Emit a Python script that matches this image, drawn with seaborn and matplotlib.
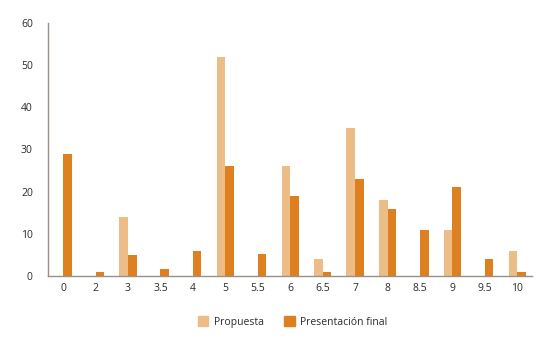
import pandas as pd
import matplotlib.pyplot as plt
import seaborn as sns

# categories (grades) and the two series
notas = ['0', '2', '3', '3.5', '4', '5', '5.5', '6', '6.5', '7', '8', '8.5', '9', '9.5', '10']
propuesta = [0, 0, 14, 0, 0, 52, 0, 26, 4, 35, 18, 0, 11, 0, 6]
final = [29, 1, 5, 1.6, 6, 26, 5.3, 19, 1, 23, 16, 11, 21, 4, 1]
series = ['Propuesta', 'Presentación final']

df = pd.DataFrame({
    'nota': notas * 2,
    'valor': propuesta + final,
    'serie': [series[0]] * len(notas) + [series[1]] * len(notas),
})

sns.set_style('white')
plt.rcParams['font.family'] = ['Open Sans', 'DejaVu Sans']

fig = plt.figure(figsize=(5.47, 3.39), dpi=100)
ax = fig.add_axes([0.088, 0.186, 0.885, 0.746])

sns.barplot(data=df, x='nota', y='valor', hue='serie', order=notas, hue_order=series,
            palette=['#EDBD87', '#DF8020'], width=0.53, saturation=1, linewidth=0, ax=ax)

ax.set_ylim(0, 60)
ax.set_xlim(-0.46, 14.46)
ax.set_yticks(range(0, 61, 10))
ax.set_xlabel('')
ax.set_ylabel('')

# spines and ticks
for s in ['top', 'right']:
    ax.spines[s].set_visible(False)
for s in ['left', 'bottom']:
    ax.spines[s].set_color('#9A9088')
    ax.spines[s].set_linewidth(1)
ax.tick_params(axis='y', length=2, color='#9A9088', pad=9, labelsize=7.5, labelcolor='#2b2b2b')
ax.tick_params(axis='x', length=0, pad=5, labelsize=7.5, labelcolor='#2b2b2b')

# legend below the chart
ax.get_legend().remove()
handles = [plt.Rectangle((0, 0), 1, 1, color=c) for c in ['#EDBD87', '#DF8020']]
fig.legend(handles, series, loc='center', bbox_to_anchor=(0.535, 0.05), ncol=2, frameon=False,
           fontsize=7.5, labelcolor='#2b2b2b', handlelength=1.0, handleheight=1.0,
           columnspacing=2.0, handletextpad=0.5)

plt.savefig('out.png', dpi=100)
